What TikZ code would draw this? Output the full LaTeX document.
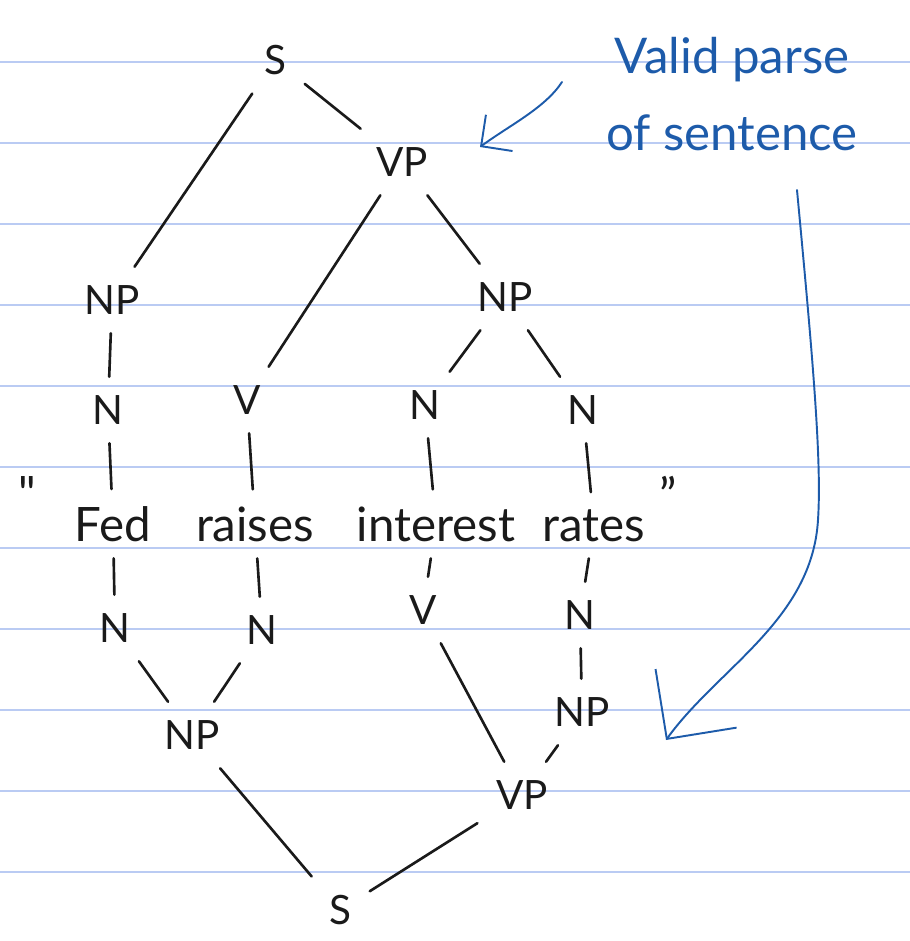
\documentclass[tikz,border=0pt]{standalone}
\usepackage{fontspec}
\setmainfont{Lato}
\usetikzlibrary{arrows.meta}
\definecolor{cink}{HTML}{1A1A1A}
\definecolor{cblue}{HTML}{1D5BAA}
\definecolor{cline}{HTML}{BACBF3}
\tikzset{
  every picture/.style={line width=1.4pt, line cap=round},
  lab/.style={inner sep=10pt, text=cink, font=\fontsize{23}{26}\selectfont},
  word/.style={inner sep=9pt, anchor=base, text=cink, font=\fontsize{27}{30}\selectfont},
  edge/.style={draw=cink, line width=1.5pt},
  note/.style={text=cblue, align=center, font=\fontsize{28}{44}\selectfont},
  pointer/.style={draw=cblue, line width=1.1pt},
}

\begin{document}
\begin{tikzpicture}[x=0.02cm, y=-0.02cm]
  \useasboundingbox (0,0) rectangle (910,941);
  % ruled paper
  \foreach \k in {0,...,10}
    \draw[cline, line width=1.6pt] (0,{62+81*\k}) -- (910,{62+81*\k});
  % top tree
  \node[lab] (s) at (275,60) {S};
  \node[lab] (vp) at (402,162) {VP};
  \node[lab] (np1) at (112,300) {NP};
  \node[lab] (np2) at (505,297) {NP};
  \node[lab] (n1) at (108,410) {N};
  \node[lab] (v1) at (247,400) {V};
  \node[lab] (n2) at (425,405) {N};
  \node[lab] (n3) at (583,410) {N};
  % sentence
  \node[word] (qopen) at (27,510) {\textquotedbl};
  \node[word] (fed) at (113,541) {Fed};
  \node[word] (raises) at (255,541) {raises};
  \node[word] (interest) at (436,541) {interest};
  \node[word] (rates) at (594,541) {rates};
  \node[word] (qclose) at (668,512) {”};
  % bottom tree
  \node[lab] (bn1) at (115,628) {N};
  \node[lab] (bn2) at (262,630) {N};
  \node[lab] (bv) at (423,610) {V};
  \node[lab] (bn3) at (580,615) {N};
  \node[lab] (bnp1) at (192,735) {NP};
  \node[lab] (bnp2) at (582,712) {NP};
  \node[lab] (bvp) at (522,795) {VP};
  \node[lab] (bs) at (340,910) {S};
  % branches
  \draw[edge] (s) -- (np1);
  \draw[edge] (s) -- (vp);
  \draw[edge] (vp) -- (v1);
  \draw[edge] (vp) -- (np2);
  \draw[edge] (np1) -- (n1);
  \draw[edge] (np2) -- (n2);
  \draw[edge] (np2) -- (n3);
  \draw[edge] (n1) -- (fed);
  \draw[edge] (v1) -- (raises);
  \draw[edge] (n2) -- (interest);
  \draw[edge] (n3) -- (rates);
  \draw[edge] (fed) -- (bn1);
  \draw[edge] (raises) -- (bn2);
  \draw[edge] (interest) -- (bv);
  \draw[edge] (rates) -- (bn3);
  \draw[edge] (bn1) -- (bnp1);
  \draw[edge] (bn2) -- (bnp1);
  \draw[edge] (bv) -- (bvp);
  \draw[edge] (bn3) -- (bnp2);
  \draw[edge] (bnp2) -- (bvp);
  \draw[edge] (bnp1) -- (bs);
  \draw[edge] (bvp) -- (bs);
  % annotation
  \node[note] (valid) at (732,94) {Valid parse\\of sentence};
  \coordinate (topfrom) at (562,82);
  \coordinate (topto) at (480,147);
  \coordinate (lowfrom) at (797,190);
  \coordinate (lowto) at (666,740);
  \draw[pointer, -{Straight Barb[length=4.5mm, width=9mm]}] (topfrom) .. controls (545,108) and (510,125) .. (topto);
  \draw[pointer, -{Straight Barb[length=10mm, width=20mm]}] (lowfrom) .. controls (812,350) and (822,460) .. (818,520)
    .. controls (812,620) and (718,668) .. (lowto);
\end{tikzpicture}
\end{document}
